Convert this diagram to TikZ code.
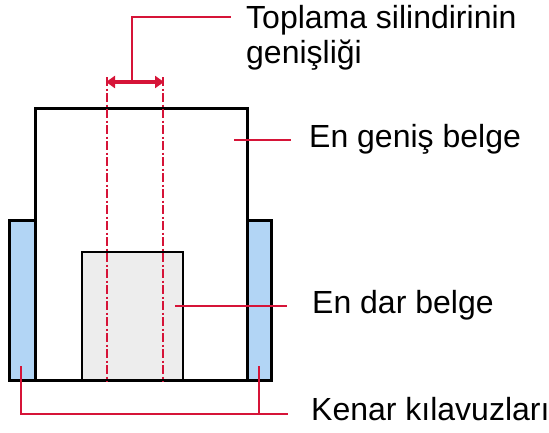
\documentclass[tikz,border=0pt]{standalone}
\usepackage{fontspec}
\setmainfont{Liberation Sans}
\usetikzlibrary{arrows.meta}
\definecolor{ldred}{RGB}{214,20,56}
\definecolor{ldblue}{RGB}{178,213,245}
\definecolor{ldgray}{RGB}{237,237,237}
\tikzset{
  lbl/.style={anchor=base west, inner sep=0pt, font=\fontsize{32}{36}\selectfont},
  boxline/.style={draw=black, line width=3pt},
  leader/.style={draw=ldred, line width=2.6pt},
  cutline/.style={draw=ldred, line width=2.4pt, dash pattern=on 9pt off 2.5pt on 2pt off 2.5pt},
}
\begin{document}
\begin{tikzpicture}[x=1pt,y=-1pt]
\useasboundingbox (0,0) rectangle (549,432);
% wide document
\path[boxline, fill=white] (35,108) rectangle (247,380);
% edge guides
\path[boxline, fill=ldblue] (9.5,220) rectangle (35,380);
\path[boxline, fill=ldblue] (247,220) rectangle (271,380);
% narrow document
\path[draw=black, line width=2.4pt, fill=ldgray] (82,252) rectangle (183,380);
\draw[line width=3pt] (9.5,380) -- (271,380);
% roller width lines
\coordinate (d1t) at (107,77); \coordinate (d1b) at (107,382);
\coordinate (d2t) at (163,77); \coordinate (d2b) at (163,382);
\path[cutline] (d1t) -- (d1b);
\path[cutline] (d2t) -- (d2b);
\coordinate (a1) at (107,82); \coordinate (a2) at (163,82);
\draw[ldred, line width=4pt, {Triangle[length=9pt,width=12pt]}-{Triangle[length=9pt,width=12pt]}, shorten <=-1pt, shorten >=-1pt] (a1) -- (a2);
% labels
\node[lbl] (t1) at (246,28) {Toplama silindirinin};
\node[lbl] (t2) at (246,63) {genişliği};
\node[lbl] (t3) at (309,147) {En geniş belge};
\node[lbl] (t4) at (312,313) {En dar belge};
\node[lbl] (t5) at (311,420) {Kenar kılavuzları};
% leaders
\coordinate (r0) at (132,82); \coordinate (r1) at (132,17); \coordinate (r2) at (231,17);
\path[leader] (r0) -- (r1) -- (r2);
\coordinate (w0) at (234,140); \coordinate (w1) at (291,140);
\path[leader] (w0) -- (w1);
\coordinate (n0) at (175,306); \coordinate (n1) at (287,306);
\path[leader] (n0) -- (n1);
\coordinate (g0) at (21,366); \coordinate (g1) at (21,414); \coordinate (g2) at (288,414);
\coordinate (h0) at (259,366); \coordinate (h1) at (259,414);
\path[leader] (g0) -- (g1) -- (g2);
\path[leader] (h0) -- (h1);
\end{tikzpicture}
\end{document}
